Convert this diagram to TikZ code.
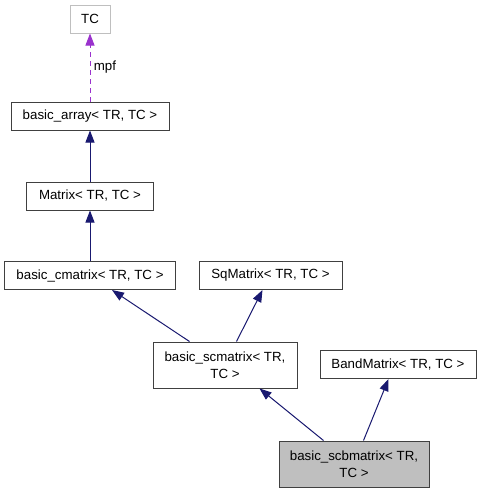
\documentclass[tikz,border=0pt]{standalone}
\usepackage{fontspec}
\setmainfont{Liberation Sans}
\usetikzlibrary{arrows.meta}
\definecolor{edgeblue}{HTML}{191970}
\definecolor{mpfpurple}{HTML}{9A32CD}
\definecolor{boxgray}{HTML}{BFBFBF}
\tikzset{
  classbox/.style={draw=black!75,line width=1pt,fill=white,inner sep=0pt,align=center,
    font=\fontsize{13.3}{17}\selectfont,minimum height=28pt},
  inherit/.style={draw=edgeblue,line width=1pt,
    -{Triangle[length=12pt,width=9pt,color=edgeblue]}},
  member/.style={draw=mpfpurple,line width=1pt,dash pattern=on 5pt off 4pt,
    -{Triangle[length=12pt,width=9pt,color=mpfpurple]}}
}
\begin{document}
\begin{tikzpicture}[x=1pt,y=-1pt]
  \useasboundingbox (0,0) rectangle (481,493);
  \fill[white] (0,0) rectangle (481,493);
  \begin{scope}[every node/.style={classbox}]
  \node[draw=black!25,minimum width=40pt] (tc) at (90,19) {TC};
  \node[minimum width=158pt] (arr) at (90,116) {basic\_array< TR, TC >};
  \node[minimum width=127pt] (mat) at (90,196) {Matrix< TR, TC >};
  \node[minimum width=171pt] (cmat) at (90,275.5) {basic\_cmatrix< TR, TC >};
  \node[minimum width=143pt] (sq) at (270.5,275.5) {SqMatrix< TR, TC >};
  \node[minimum width=144pt,minimum height=46pt] (scm) at (225,365) {basic\_scmatrix< TR,\\TC >};
  \node[minimum width=156pt] (band) at (398,364.5) {BandMatrix< TR, TC >};
  \node[minimum width=150pt,minimum height=46pt,fill=boxgray] (scbm) at (354,464) {basic\_scbmatrix< TR,\\TC >};
  \end{scope}
  \path[member] (arr) edge node[right,font=\fontsize{13.3}{16}\selectfont,text=black] {mpf} (tc);
  \begin{scope}[every edge/.style={inherit}]
  \path (mat) edge (arr);
  \path (cmat) edge (mat);
  \path ([xshift=37pt]scm.north west) edge ([xshift=108pt]cmat.south west);
  \path ([xshift=84pt]scm.north west) edge ([xshift=64pt]sq.south west);
  \path ([xshift=45pt]scbm.north west) edge ([xshift=107pt]scm.south west);
  \path ([xshift=85pt]scbm.north west) edge ([xshift=69pt]band.south west);
  \end{scope}
\end{tikzpicture}
\end{document}
